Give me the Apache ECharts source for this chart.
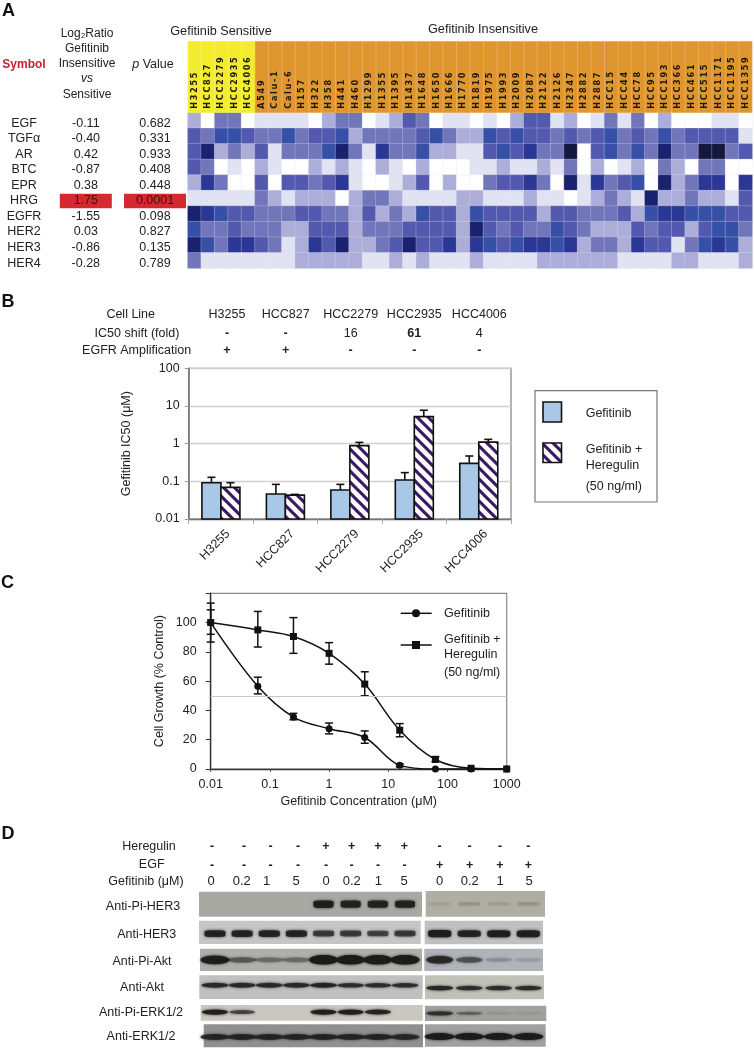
<!DOCTYPE html>
<html><head><meta charset="utf-8">
<style>html,body{margin:0;padding:0;background:#fff}#c{width:754px;height:1050px}</style>
<script src="https://cdn.jsdelivr.net/npm/echarts@6/dist/echarts.min.js"></script>
</head><body><div id="c"></div>
<script>
// ---------- Panel A data ----------
const cellLines=['H3255','HCC827','HCC2279','HCC2935','HCC4006','A549','Calu-1','Calu-6','H157','H322','H358','H441','H460','H1299','H1355','H1395','H1437','H1648','H1650','H1666','H1770','H1819','H1975','H1993','H2009','H2087','H2122','H2126','H2347','H2882','H2887','HCC15','HCC44','HCC78','HCC95','HCC193','HCC366','HCC461','HCC515','HCC1171','HCC1195','HCC1359'];
const sensitiveCount=5;
const symbols=['EGF','TGFα','AR','BTC','EPR','HRG','EGFR','HER2','HER3','HER4'];
const logRatios=['-0.11','-0.40','0.42','-0.87','0.38','1.75','-1.55','0.03','-0.86','-0.28'];
const pValues=['0.682','0.331','0.933','0.408','0.448','0.0001','0.098','0.827','0.135','0.789'];
const lvEGF =[2,0,3,3,0,1,1,1,1,0,2,3,3,0, 1,2,4,3,0,1,1,0,1,0,2,4,4,1,2,0,1,3,1,3,0,2,0,0,0,1,1,0];
const lvTGFa=[4,3,5,5,4,3,3,5,3,4,4,5,2,3, 3,3,3,4,5,3,2,2,5,4,5,4,4,3,4,3,4,5,3,4,3,5,3,4,4,4,4,1];
const lvAR  =[4,7,2,3,2,4,1,3,3,3,5,7,3,1, 6,3,3,5,2,2,1,1,4,5,4,6,3,3,8,0,4,5,3,5,3,7,3,3,8,8,3,4];
const lvBTC =[4,3,0,1,0,2,1,0,0,2,1,2,1,0, 2,1,0,2,0,0,0,1,1,2,1,1,2,1,3,0,2,0,1,2,0,3,2,0,3,3,0,0];
const lvEPR =[2,6,3,0,0,4,0,4,4,3,4,6,1,0, 0,1,2,4,0,2,0,0,3,4,4,6,3,0,7,1,6,3,4,5,0,7,2,3,6,6,0,6];
const lvHRG =[1,1,1,1,1,3,2,1,2,2,2,0,2,3, 3,2,1,1,1,1,2,2,1,1,1,2,1,1,0,1,2,3,2,1,7,2,2,3,2,2,1,4];
const lvEGFR=[7,6,5,4,4,3,3,3,4,4,3,3,2,4, 2,3,2,5,4,4,2,5,4,4,4,4,2,4,4,3,3,3,4,2,5,6,6,5,5,5,4,4];
const lvHER2=[5,3,3,4,3,3,3,2,2,4,4,4,2,3, 3,3,4,4,4,4,2,7,4,3,4,3,3,5,4,3,2,2,2,4,3,4,4,2,4,5,5,3];
const lvHER3=[7,5,3,6,6,4,3,1,2,6,4,7,2,2, 3,4,7,4,4,6,2,6,5,4,5,6,6,5,6,2,3,3,2,6,4,4,1,3,5,6,5,2];
const lvHER4=[3,1,1,1,1,1,1,1,2,2,2,2,2,1, 1,2,1,2,1,1,1,2,1,1,1,1,2,2,2,2,2,2,1,1,1,1,2,2,1,1,1,2];
const heatRows=[lvEGF,lvTGFa,lvAR,lvBTC,lvEPR,lvHRG,lvEGFR,lvHER2,lvHER3,lvHER4];
const heatColors=['#ffffff','#e2e3f2','#adadda','#7175ba','#5259ae','#3650a8','#2a3794','#1a2270','#14183f'];
// ---------- Panel B data ----------
const ic50Lines=['H3255','HCC827','HCC2279','HCC2935','HCC4006'];
const ic50Shift=['-','-','16','61','4'];
const egfrAmp=['+','+','-','-','-'];
const ic50Gef=[0.092,0.046,0.059,0.108,0.30];
const ic50GefErr=[0.128,0.083,0.083,0.17,0.47];
const ic50Hrg=[0.069,0.043,0.885,5.2,1.1];
const ic50HrgErr=[0.092,0.045,1.08,7.7,1.3];
// ---------- Panel C data ----------
const doses=[0.01,0.0625,0.25,1,4,15.6,62.5,250,1000];
const growthGef=[100,56.5,35.5,27.5,21.5,2.5,0,0,0];
const growthGefLow=[86.7,51.3,33.6,24,17.6,1.5,0,0,0];
const growthGefHigh=[113.3,62.7,38,31.4,26,3.5,0,0,0];
const growthHrg=[100,95,90.5,79,58,26.5,6.5,0.5,0];
const growthHrgLow=[92,83.3,79,71.6,50,22,5,0,0];
const growthHrgHigh=[108.7,107.6,103.4,86.3,66.4,31,8.5,1,0];
// ---------- Panel D data ----------
const blotLabels=['Anti-Pi-HER3','Anti-HER3','Anti-Pi-Akt','Anti-Akt','Anti-Pi-ERK1/2','Anti-ERK1/2'];
const heregulinRow=['-','-','-','-','+','+','+','+','-','-','-','-'];
const egfRow=['-','-','-','-','-','-','-','-','+','+','+','+'];
const gefitinibRow=['0','0.2','1','5','0','0.2','1','5','0','0.2','1','5'];
const bandPiHer3=[0,0,0,0,.9,.85,.85,.85, .06,.12,.08,.12];
const bandHer3=[.85,.85,.85,.85,.65,.65,.6,.65, .95,.85,.9,.9];
const bandPiAkt=[.9,.4,.3,.3,1,1,1,1, .75,.45,.15,.1];
const bandAkt=[.8,.8,.8,.8,.85,.75,.75,.75, .8,.75,.75,.75];
const bandPiErk=[.9,.6,0,0,.9,.9,.85,0, .7,.35,.08,.05];
const bandErk=[.8,.8,.8,.8,.8,.8,.8,.75, 1,1,1,1];
const bandRows=[bandPiHer3,bandHer3,bandPiAkt,bandAkt,bandPiErk,bandErk];

// ---------- Layout / style constants ----------
const FF='"Liberation Sans",Arial,sans-serif', TXT='#222';
const blotBoxes=[ // [left panel x0,x1,y0,y1,colour], [right panel ...], band height, [band y fractions], [band widths], band shape
 [[199,422,891.7,916.7,'#a9a9a3'],[425.7,545,891,916.7,'#b0aea4'],8,[.5,.5],[20,22],'roundRect'],
 [[199,420.7,920.7,944,'#c5c5c5'],[424.7,543,920.7,944.3,'#c0c0c0'],7.5,[.45,.45],[21,23],'roundRect'],
 [[200,422,948.7,971,'#b0b0aa'],[424.3,543,948.7,971,'#b0b4b8'],9.5,[.5,.5],[29,27],'circle'],
 [[199.3,422.7,975.3,999,'#c0c0c0'],[425,544,975.3,999.3,'#c0c2b8'],5.5,[.58,.47],[27,27],'circle'],
 [[200.7,422.7,1005,1020.7,'#c8c8c0'],[425,546.3,1005.7,1021,'#a0a09c'],5.5,[.55,.5],[26,27],'circle'],
 [[203.7,423,1024.3,1047.3,'#909090'],[425,545.7,1024.3,1046.7,'#a0a0a0'],7,[.45,.45],[29,30],'circle']
];
const laneL=[215,242.7,270,297.5,325.5,352.5,378.7,405], laneR=[439.7,469.7,500,528.3];

// stripe pattern
const tile=document.createElement('canvas');tile.width=11;tile.height=11;
(function(){const c=tile.getContext('2d');c.fillStyle='#fff';c.fillRect(0,0,11,11);c.strokeStyle='#3b1a63';c.lineWidth=3.1;
 for(const k of [-1,0,1]){c.beginPath();c.moveTo(k*11-1,-1);c.lineTo(k*11+12,12);c.stroke();}})();
const stripe={image:tile,repeat:'repeat'};

// ---------- Graphic helpers ----------
const g=[];
function T(text,x,y,o){o=o||{};g.push({type:'text',z:20,style:Object.assign({text,x,y,fill:o.fill||TXT,
  font:(o.style||'')+' '+(o.size||12.5)+'px '+FF,align:o.align||'center',verticalAlign:'middle'},o.extra||{})});}
T('A',2,11,{style:'bold',size:18,align:'left',fill:'#111'});
T('B',1.5,301.7,{style:'bold',size:18,align:'left',fill:'#111'});
T('C',1,583.5,{style:'bold',size:18,align:'left',fill:'#111'});
T('D',1.5,834,{style:'bold',size:18,align:'left',fill:'#111'});
T('Log₂Ratio',87,34,{size:12});T('Gefitinib',87,49,{size:12});T('Insensitive',87,64,{size:12});T('vs',87,79,{style:'italic',size:12});T('Sensitive',87,95,{size:12});
T('Symbol',24,65,{style:'bold',fill:'#c32030',size:12});
T('{i|p} Value',153,64.5,{extra:{rich:{i:{fontStyle:'italic',fontSize:12.5,fontFamily:FF,fill:TXT}}}});
T('Gefitinib Sensitive',221,31,{size:12.7});T('Gefitinib Insensitive',483,29,{size:12.7});
// Panel B table
T('Cell Line',130.7,314.7);T('IC50 shift (fold)',137,333.3);T('EGFR Amplification',136.6,351);
const tblX=[227,285.7,350.7,414.3,479.3];
ic50Lines.forEach((s,i)=>{T(s,tblX[i],314.7);
 const sh=ic50Shift[i];T(sh,tblX[i],333.3,{style:sh==='-'||sh==='61'?'bold':''});
 T(egfrAmp[i],tblX[i],351,{style:'bold'});});
// Panel B legend
g.push({type:'rect',z:15,shape:{x:535,y:390.7,width:122,height:111.3},style:{fill:'#fff',stroke:'#777',lineWidth:1.2}});
g.push({type:'rect',z:16,shape:{x:543,y:402,width:18.5,height:20},style:{fill:'#a9c8e8',stroke:'#111',lineWidth:1.6}});
g.push({type:'rect',z:16,shape:{x:543,y:443,width:18.5,height:19.5},style:{fill:stripe,stroke:'#111',lineWidth:1.6}});
T('Gefitinib',585.7,414,{align:'left'});T('Gefitinib +',585.7,450,{align:'left'});T('Heregulin',585.7,466,{align:'left'});T('(50 ng/ml)',585.7,486.7,{align:'left'});
// Panel C legend
function legLine(y){g.push({type:'line',z:16,shape:{x1:400.7,y1:y,x2:431.7,y2:y},style:{stroke:'#111',lineWidth:1.5}});}
legLine(613.3);legLine(645);
g.push({type:'circle',z:17,shape:{cx:416,cy:613.3,r:4},style:{fill:'#111'}});
g.push({type:'rect',z:17,shape:{x:412,y:641,width:8,height:8},style:{fill:'#111'}});
T('Gefitinib',444,613.7,{align:'left'});T('Gefitinib +',444,639.3,{align:'left'});T('Heregulin',444,655,{align:'left'});T('(50 ng/ml)',444,672.7,{align:'left'});
// Panel D labels
const blotTextX=[143,146.7,142,142,141,141], blotTextY=[907,935,961.7,987.7,1013,1037];
blotLabels.forEach((s,i)=>T(s,blotTextX[i],blotTextY[i],{size:12.5}));
T('Heregulin',149,846.7,{size:12.5});T('EGF',151.7,865,{size:12.5});T('Gefitinib (μM)',146,881.7,{size:12.5});
const signX=[212,244,270.7,298,326,351.7,378,404.5,439.7,469.7,500,528.3];
const doseX=[211,241.7,266.7,296,326,351.7,378.3,404,439.7,469.7,500,529];
signX.forEach((x,i)=>{T(heregulinRow[i],x,846.5,{style:'bold'});T(egfRow[i],x,865.5,{style:'bold'});T(gefitinibRow[i],doseX[i],881.5,{size:13});});

// ---------- Grids, axes, series ----------
const grid=[],xAxis=[],yAxis=[],series=[];
const hmX=187.7,hmW=564.6;
// 0: heatmap
grid.push({left:hmX,top:112.7,width:hmW,height:155.6});
xAxis.push({gridIndex:0,type:'category',data:cellLines,show:false});
yAxis.push({gridIndex:0,type:'category',data:symbols,inverse:true,show:false});
const hdata=[];heatRows.forEach((r,y)=>r.forEach((v,x)=>hdata.push([x,y,v])));
series.push({type:'heatmap',xAxisIndex:0,yAxisIndex:0,data:hdata,itemStyle:{borderColor:'rgba(225,225,235,.55)',borderWidth:.5}});
// 1: column header band
grid.push({left:hmX,top:41.3,width:hmW,height:71.4});
xAxis.push({gridIndex:1,type:'category',data:cellLines,z:6,axisLine:{show:false},axisTick:{show:false},
  axisLabel:{interval:0,inside:true,rotate:90,align:'left',verticalAlign:'middle',margin:4,hideOverlap:false,
    fontFamily:'"DejaVu Sans"',fontWeight:'bold',fontSize:8.2,color:'#1c1a10',
    formatter:v=>v.split('').join('\u2009')}});
yAxis.push({gridIndex:1,type:'value',min:0,max:1,show:false});
series.push({type:'bar',xAxisIndex:1,yAxisIndex:1,barWidth:'100%',silent:true,
  data:cellLines.map((n,i)=>{const c=i<sensitiveCount?'#f3ec2e':'#e0962e';return {value:1,itemStyle:{color:c,borderColor:c,borderWidth:.8}};})});
// 2: text table beside heatmap (rows from arrays)
grid.push({left:hmX,top:115.3,width:hmW,height:155.6});
xAxis.push({gridIndex:2,type:'value',show:false});
const hi=symbols.indexOf('HRG');
function tableAxis(data,offset,w){return {gridIndex:2,type:'category',data,inverse:true,position:'left',offset,
  axisLine:{show:false},axisTick:{show:false},splitLine:{show:false},
  axisLabel:{interval:0,margin:0,align:'center',fontFamily:FF,fontSize:12.5,color:TXT,hideOverlap:false,
   formatter:(v,i)=>w&&i===hi?'{h|'+v+'}':v,
   rich:w?{h:{backgroundColor:'#d42a2f',width:w,height:14.5,align:'center',color:'#3b1214',fontFamily:FF,fontSize:12.5}}:{}}};}
const tA=yAxis.length;
yAxis.push(tableAxis(symbols,163.7,0),tableAxis(logRatios,101.9,52),tableAxis(pValues,32.7,62));
series.push({type:'scatter',xAxisIndex:2,yAxisIndex:tA,data:[],silent:true});
series.push({type:'scatter',xAxisIndex:2,yAxisIndex:tA+1,data:[],silent:true});
series.push({type:'scatter',xAxisIndex:2,yAxisIndex:tA+2,data:[],silent:true});
// 3: IC50 bars (custom series: ECharts bars on a log axis always start at 1, here they must start at the axis minimum)
const gi=grid.length;
grid.push({left:188.7,top:368.3,width:322.3,height:150.7,show:true,borderColor:'#8a8a8a',borderWidth:1.3,backgroundColor:'transparent'});
xAxis.push({gridIndex:gi,type:'category',data:ic50Lines,
  axisLine:{lineStyle:{color:'#777',width:1.4}},axisTick:{show:true,length:5,lineStyle:{color:'#aaa'}},
  axisLabel:{interval:0,rotate:45,fontFamily:FF,fontSize:12.5,color:TXT,margin:20,padding:[0,-10,0,0],hideOverlap:false}});
const yB=yAxis.length, yBmin=0.01;
yAxis.push({gridIndex:gi,type:'log',logBase:10,min:yBmin,max:100,
  name:'Gefitinib IC50 (μM)',nameLocation:'middle',nameGap:56,nameTextStyle:{fontFamily:FF,fontSize:12.5,color:TXT},
  axisLine:{show:true,lineStyle:{color:'#777',width:1.6}},axisTick:{show:true,length:4,lineStyle:{color:'#999'}},minorTick:{show:false},
  splitLine:{show:true,lineStyle:{color:'#cfcfcf',width:1.3}},
  axisLabel:{margin:9,fontFamily:FF,fontSize:12.5,color:TXT,formatter:v=>String(+(+v).toPrecision(1))}});
function bars(name,vals,fill,side){const BW=19;return {type:'custom',name,xAxisIndex:gi,yAxisIndex:yB,silent:true,z:3,
  data:vals.map((v,i)=>[i,v]),encode:{x:0,y:1},
  renderItem:(p,api)=>{const a=api.coord([api.value(0),api.value(1)]),b=api.coord([api.value(0),yBmin]);
    return {type:'rect',shape:{x:a[0]+(side<0?-BW:0),y:a[1],width:BW,height:b[1]-a[1]},style:{fill,stroke:'#111',lineWidth:1.6}};}};}
series.push(bars('Gefitinib',ic50Gef,'#a9c8e8',-1),bars('Gefitinib + Heregulin (50 ng/ml)',ic50Hrg,stripe,1));
function upperErr(base,top,dx){return {type:'custom',xAxisIndex:gi,yAxisIndex:yB,z:2,silent:true,
  data:base.map((b,i)=>[i,b,top[i]]),encode:{x:0,y:[1,2]},
  renderItem:(p,api)=>{const a=api.coord([api.value(0),api.value(1)]),b=api.coord([api.value(0),api.value(2)]);const x=a[0]+dx;
   const st={stroke:'#111',lineWidth:1.6,fill:null};
   return {type:'group',children:[{type:'line',shape:{x1:x,y1:a[1],x2:x,y2:b[1]},style:st},{type:'line',shape:{x1:x-4,y1:b[1],x2:x+4,y2:b[1]},style:st}]};}};}
series.push(upperErr(ic50Gef,ic50GefErr,-9.5),upperErr(ic50Hrg,ic50HrgErr,9.5));
// 4: growth curves
const gc=grid.length;
grid.push({left:210.7,top:593.3,width:296,height:175.7,show:true,borderColor:'#8a8a8a',borderWidth:1.2,backgroundColor:'transparent'});
xAxis.push({gridIndex:gc,type:'log',logBase:10,min:0.01,max:1000,
  name:'Gefitinib Concentration (μM)',nameLocation:'middle',nameGap:26,nameTextStyle:{fontFamily:FF,fontSize:12.5,color:TXT},
  axisLine:{lineStyle:{color:'#333',width:1.4}},axisTick:{show:true,length:3,lineStyle:{color:'#555'}},minorTick:{show:false},splitLine:{show:false},
  axisLabel:{margin:9,fontFamily:FF,fontSize:12.5,color:TXT,formatter:v=>String(+(+v).toPrecision(1))}});
const yC=yAxis.length;
yAxis.push({gridIndex:gc,type:'value',min:0,max:120,interval:20,
  name:'Cell Growth (% Control)',nameLocation:'middle',nameGap:45,nameTextStyle:{fontFamily:FF,fontSize:12.5,color:TXT},
  axisLine:{show:true,lineStyle:{color:'#333',width:1.4}},axisTick:{show:true,length:5,lineStyle:{color:'#333'}},splitLine:{show:false},
  axisLabel:{margin:14,fontFamily:FF,fontSize:12.5,color:TXT,formatter:v=>v>100?'':String(v)}});
function curve(vals,sym,size,extra){return Object.assign({type:'line',xAxisIndex:gc,yAxisIndex:yC,smooth:.35,
  data:doses.map((d,i)=>[d,vals[i]]),symbol:sym,symbolSize:size,showSymbol:true,clip:false,
  lineStyle:{color:'#111',width:1.5},itemStyle:{color:'#111'}},extra||{});}
series.push(curve(growthGef,'circle',7,{markLine:{silent:true,symbol:'none',label:{show:false},lineStyle:{color:'#c8c8c8',width:1,type:'solid'},data:[{yAxis:50}]}}));
series.push(curve(growthHrg,'rect',7));
function errBars(lo,hi){return {type:'custom',xAxisIndex:gc,yAxisIndex:yC,silent:true,z:3,clip:false,
  data:doses.map((d,i)=>[d,lo[i],hi[i]]).filter(r=>r[2]>r[1]+1.2),encode:{x:0,y:[1,2]},
  renderItem:(p,api)=>{const a=api.coord([api.value(0),api.value(1)]),b=api.coord([api.value(0),api.value(2)]);
   const st={stroke:'#111',lineWidth:1.5,fill:null},x=a[0];
   return {type:'group',children:[{type:'line',shape:{x1:x,y1:a[1],x2:x,y2:b[1]},style:st},
     {type:'line',shape:{x1:x-4,y1:a[1],x2:x+4,y2:a[1]},style:st},{type:'line',shape:{x1:x-4,y1:b[1],x2:x+4,y2:b[1]},style:st}]};}};}
series.push(errBars(growthGefLow,growthGefHigh),errBars(growthHrgLow,growthHrgHigh));
// 5+: western-blot strips, one small grid per panel; bands placed by lane index
function blot(box,lanes,values,h,yPos,wd,shape){
  const idx=grid.length,x0=box[0],x1=box[1],sp=(lanes[lanes.length-1]-lanes[0])/(lanes.length-1);
  grid.push({left:x0,top:box[2],width:x1-x0,height:box[3]-box[2],show:true,borderWidth:0,backgroundColor:box[4]});
  xAxis.push({gridIndex:idx,type:'value',show:false,min:(x0-lanes[0])/sp,max:(x1-lanes[0])/sp,splitLine:{show:false}});
  yAxis.push({gridIndex:idx,type:'value',show:false,min:0,max:1,splitLine:{show:false}});
  series.push({type:'scatter',xAxisIndex:idx,yAxisIndex:yAxis.length-1,silent:true,symbol:shape,
    data:values.map((v,i)=>({value:[i,yPos],symbolSize:[wd,Math.max(2,h*(.35+.65*v))],itemStyle:{opacity:v}})),
    itemStyle:{color:'#1d1a1a',shadowBlur:3,shadowColor:'#222'}});
}
blotBoxes.forEach((b,i)=>{blot(b[0],laneL,bandRows[i].slice(0,8),b[2],b[3][0],b[4][0],b[5]);blot(b[1],laneR,bandRows[i].slice(8),b[2],b[3][1],b[4][1],b[5]);});

const chart=echarts.init(document.getElementById('c'),null,{renderer:'canvas'});
chart.setOption({animation:false,backgroundColor:'#fff',textStyle:{fontFamily:FF},
  tooltip:{show:false},
  visualMap:{show:false,type:'continuous',min:0,max:8,seriesIndex:0,inRange:{color:heatColors}},
  grid,xAxis,yAxis,series,graphic:{elements:g}});
</script></body></html>
